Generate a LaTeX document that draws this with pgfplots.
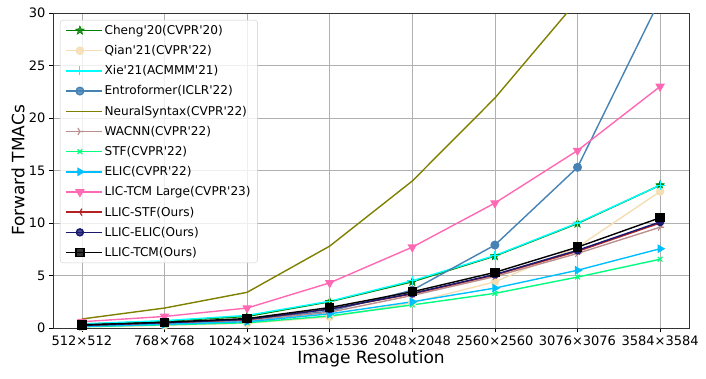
\documentclass[border=0pt]{standalone}
\usepackage{fontspec}
\setmainfont{DejaVu Sans}[Ligatures=TeXOff]
\usepackage{pgfplots}
\pgfplotsset{compat=1.18}
\usetikzlibrary{plotmarks}
\pgfdeclareplotmark{fstar}{%
  \pgfpathmoveto{\pgfqpointpolar{90}{\pgfplotmarksize}}%
  \pgfpathlineto{\pgfqpointpolar{126}{0.42\pgfplotmarksize}}%
  \pgfpathlineto{\pgfqpointpolar{162}{\pgfplotmarksize}}%
  \pgfpathlineto{\pgfqpointpolar{198}{0.42\pgfplotmarksize}}%
  \pgfpathlineto{\pgfqpointpolar{234}{\pgfplotmarksize}}%
  \pgfpathlineto{\pgfqpointpolar{270}{0.42\pgfplotmarksize}}%
  \pgfpathlineto{\pgfqpointpolar{306}{\pgfplotmarksize}}%
  \pgfpathlineto{\pgfqpointpolar{342}{0.42\pgfplotmarksize}}%
  \pgfpathlineto{\pgfqpointpolar{18}{\pgfplotmarksize}}%
  \pgfpathlineto{\pgfqpointpolar{54}{0.42\pgfplotmarksize}}%
  \pgfpathclose\pgfusepathqfillstroke}
\definecolor{mgreen}{RGB}{0,128,0}
\definecolor{mwheat}{RGB}{245,222,179}
\definecolor{mcyan}{RGB}{0,255,255}
\definecolor{msteel}{RGB}{70,130,180}
\definecolor{molive}{RGB}{128,128,0}
\definecolor{mrosy}{RGB}{188,143,143}
\definecolor{mspring}{RGB}{0,255,127}
\definecolor{mdeepsky}{RGB}{0,191,255}
\definecolor{mhotpink}{RGB}{255,105,180}
\definecolor{mbrown}{RGB}{178,34,34}
\definecolor{mnavy}{RGB}{25,25,112}
\definecolor{mgrid}{RGB}{176,176,176}
\begin{document}
\begin{tikzpicture}
\useasboundingbox (-53pt,-50pt) rectangle (653pt,328pt);
\begin{axis}[
  scale only axis,
  width=636pt, height=315pt,
  xmin=-0.35, xmax=7.35, ymin=0, ymax=30,
  xtick={0,1,2,3,4,5,6,7},
  xticklabels={512×512,768×768,1024×1024,1536×1536,2048×2048,2560×2560,3076×3076,3584×3584},
  ytick={0,5,10,15,20,25,30},
  /pgf/number format/assume math mode=true,
  tick label style={font=\fontsize{13}{15}\selectfont},
  label style={font=\fontsize{17}{20}\selectfont},
  xlabel={Image Resolution}, ylabel={Forward TMACs},
  x label style={at={(axis description cs:0.5,0)}, anchor=center, yshift=-31pt},
  y label style={at={(axis description cs:0,0.5)}, anchor=center, yshift=35pt},
  tick align=outside, tick pos=left,
  major tick length=4pt,
  every tick/.style={black, line width=0.8pt},
  axis line style={black!80, line width=0.8pt},
  grid=major,
  grid style={mgrid, line width=0.8pt},
  every axis plot/.append style={line width=1.4pt},
  legend cell align=left,
  legend image code/.code={\draw[line width=1.4pt, mark repeat=2,mark phase=2] plot coordinates {(0pt,0pt) (14pt,0pt) (28pt,0pt)}; \path (0pt,0pt) -- (36pt,0pt);},
  legend style={at={(rel axis cs:0.011,0.978)}, anchor=north west,
    font=\fontsize{12.1}{14}\selectfont,
    draw=black!20, rounded corners=3pt, fill=white, fill opacity=0.8, text opacity=1,
    row sep=7.5pt, inner xsep=5pt, inner ysep=4pt,
    nodes={inner ysep=1pt}},
]
\addplot[color=mgreen, mark=fstar, mark size=4.5pt, mark options={line width=0.6pt}] coordinates {(0,0.35) (1,0.65) (2,1.1) (3,2.5) (4,4.4) (5,6.85) (6,9.95) (7,13.6)};
\addlegendentry{Cheng'20(CVPR'20)}
\addplot[color=mwheat, mark=*, mark size=3.5pt] coordinates {(0,0.1) (1,0.25) (2,0.45) (3,1.05) (4,2.4) (5,4.4) (6,7.7) (7,13.0)};
\addlegendentry{Qian'21(CVPR'22)}
\addplot[color=mcyan, mark=+, mark size=4.5pt, mark options={line width=1.2pt}] coordinates {(0,0.4) (1,0.7) (2,1.2) (3,2.55) (4,4.5) (5,6.9) (6,10.0) (7,13.6)};
\addlegendentry{Xie'21(ACMMM'21)}
\addplot[color=msteel, mark=*, mark size=3.8pt] coordinates {(0,0.3) (1,0.5) (2,0.8) (3,1.6) (4,3.6) (5,7.9) (6,15.3) (7,31.3)};
\addlegendentry{Entroformer(ICLR'22)}
\addplot[color=molive] coordinates {(0,0.86) (1,1.9) (2,3.4) (3,7.8) (4,14.0) (5,21.9) (6,31.2) (7,41.0)};
\addlegendentry{NeuralSyntax(CVPR'22)}
\addplot[color=mrosy, mark=Mercedes star, mark size=4pt, mark options={rotate=-90, line width=1.2pt}] coordinates {(0,0.2) (1,0.4) (2,0.7) (3,1.5) (4,3.1) (5,4.9) (6,7.1) (7,9.6)};
\addlegendentry{WACNN(CVPR'22)}
\addplot[color=mspring, mark=x, mark size=3.3pt, mark options={line width=1.2pt}] coordinates {(0,0.12) (1,0.3) (2,0.5) (3,1.15) (4,2.2) (5,3.3) (6,4.85) (7,6.55)};
\addlegendentry{STF(CVPR'22)}
\addplot[color=mdeepsky, mark=triangle*, mark size=3.8pt, mark options={rotate=-90}] coordinates {(0,0.15) (1,0.35) (2,0.6) (3,1.35) (4,2.5) (5,3.8) (6,5.5) (7,7.55)};
\addlegendentry{ELIC(CVPR'22)}
\addplot[color=mhotpink, mark=triangle*, mark size=4.2pt, mark options={rotate=180}] coordinates {(0,0.6) (1,1.1) (2,1.9) (3,4.3) (4,7.7) (5,11.9) (6,16.9) (7,23.0)};
\addlegendentry{LIC-TCM Large(CVPR'23)}
\addplot[color=mbrown, mark=Mercedes star, mark size=4pt, mark options={rotate=90, line width=1.2pt}] coordinates {(0,0.25) (1,0.5) (2,0.8) (3,1.8) (4,3.25) (5,5.05) (6,7.3) (7,10.0)};
\addlegendentry{LLIC-STF(Ours)}
\addplot[color=mnavy, mark=*, mark size=3.5pt] coordinates {(0,0.25) (1,0.5) (2,0.82) (3,1.8) (4,3.3) (5,5.1) (6,7.4) (7,10.1)};
\addlegendentry{LLIC-ELIC(Ours)}
\addplot[color=black, mark=square*, mark size=4pt] coordinates {(0,0.3) (1,0.55) (2,0.9) (3,1.95) (4,3.45) (5,5.3) (6,7.7) (7,10.5)};
\addlegendentry{LLIC-TCM(Ours)}
\end{axis}
\end{tikzpicture}
\end{document}
